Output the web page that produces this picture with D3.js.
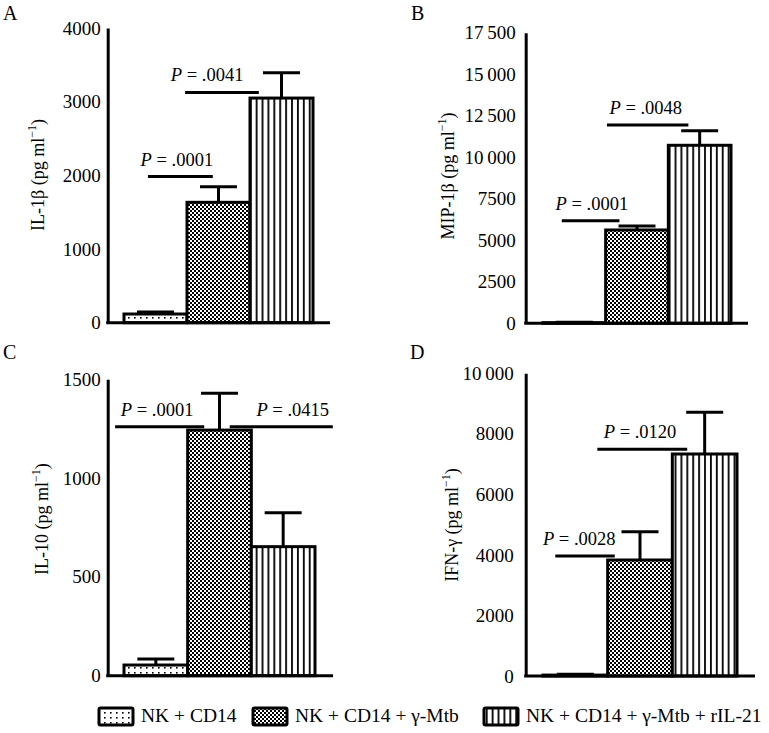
<!DOCTYPE html>
<html lang="en">
<head>
<meta charset="utf-8">
<title>NK cytokines</title>
<script src="https://cdn.jsdelivr.net/npm/d3@7"></script>
<style>
  body { margin: 0; background: #fff; }
  svg, svg text { font-family: "Liberation Serif", "Times New Roman", Times, serif; }
</style>
</head>
<body>
<svg width="769" height="733"></svg>
<script>
// groups (legend)
var groups = ["NK + CD14", "NK + CD14 + \u03b3-Mtb", "NK + CD14 + \u03b3-Mtb + rIL-21"];

// means and SEM, pg/ml
var il1bMean = [118, 1634, 3049];
var il1bSem  = [27, 211, 343];
var mip1bMean = [40, 5620, 10720];
var mip1bSem  = [20, 240, 880];
var il10Mean = [54, 1243, 653];
var il10Sem  = [31, 186, 172];
var ifngMean = [30, 3832, 7334];
var ifngSem  = [25, 935, 1377];

// tick values
var il1bTicks  = [0, 1000, 2000, 3000, 4000];
var mip1bTicks = [0, 2500, 5000, 7500, 10000, 12500, 15000, 17500];
var il10Ticks  = [0, 500, 1000, 1500];
var ifngTicks  = [0, 2000, 4000, 6000, 8000, 10000];

// P values and the level of their bracket
var il1bP  = [".0001", ".0041"], il1bPLevel  = [1984, 3126];
var mip1bP = [".0001", ".0048"], mip1bPLevel = [6180, 11940];
var il10P  = [".0001", ".0415"], il10PLevel  = [1260, 1260];
var ifngP  = [".0028", ".0120"], ifngPLevel  = [3964, 7489];

// layout of each panel (pixels) and bracket spans (in bar widths)
var panels = [
  {label: "A", name: "IL-1\u03b2", mean: il1bMean, sem: il1bSem, ticks: il1bTicks, p: il1bP, lvl: il1bPLevel,
   ax: 107.7, top: 28, bot: 322.7, b0: 124, b1: 313, end: 330, pad: 7, tx: 38, ty: 175, lx: 3, ly: 20,
   span: [[0.38, 1.41, 0.84], [0.97, 2.14, 1.32]]},
  {label: "B", name: "MIP-1\u03b2", mean: mip1bMean, sem: mip1bSem, ticks: mip1bTicks, p: mip1bP, lvl: mip1bPLevel,
   ax: 525.7, top: 32.7, bot: 323.3, b0: 543, b1: 731, end: 748, pad: 10, tx: 448, ty: 176, lx: 411, ly: 20,
   span: [[0.30, 1.22, 0.78], [1.02, 2.32, 1.64]]},
  {label: "C", name: "IL-10", mean: il10Mean, sem: il10Sem, ticks: il10Ticks, p: il10P, lvl: il10PLevel,
   ax: 107.7, top: 379.3, bot: 675.7, b0: 124, b1: 315, end: 333, pad: 7, tx: 42, ty: 519, lx: 3, ly: 359,
   span: [[-0.14, 1.26, 0.52], [1.66, 3.28, 2.65]]},
  {label: "D", name: "IFN-\u03b3", mean: ifngMean, sem: ifngSem, ticks: ifngTicks, p: ifngP, lvl: ifngPLevel,
   ax: 525.7, top: 373.3, bot: 676, b0: 543, b1: 737, end: 755, pad: 12, tx: 452, ty: 525, lx: 410, ly: 359,
   span: [[0.19, 1.11, 0.56], [0.84, 2.23, 1.50]]}
];

var FONT = "'Liberation Serif', 'Times New Roman', Times, serif";
var svg = d3.select("svg").attr("font-family", FONT);
svg.append("rect").attr("width", 769).attr("height", 733).attr("fill", "#fff");

// fill patterns
var defs = svg.append("defs");
var dots = defs.append("pattern").attr("id", "pat0").attr("patternUnits", "userSpaceOnUse")
  .attr("width", 6).attr("height", 5);
dots.append("rect").attr("width", 6).attr("height", 5).attr("fill", "#fff");
dots.append("rect").attr("x", 2).attr("y", 2).attr("width", 1.6).attr("height", 1.6).attr("fill", "#000");

var chk = defs.append("pattern").attr("id", "pat1").attr("patternUnits", "userSpaceOnUse")
  .attr("width", 4).attr("height", 4);
chk.append("rect").attr("width", 4).attr("height", 4).attr("fill", "#fff");
chk.append("rect").attr("width", 2).attr("height", 2).attr("fill", "#000");
chk.append("rect").attr("x", 2).attr("y", 2).attr("width", 2).attr("height", 2).attr("fill", "#000");

var str = defs.append("pattern").attr("id", "pat2").attr("patternUnits", "userSpaceOnUse")
  .attr("width", 5.9).attr("height", 10);
str.append("rect").attr("width", 5.9).attr("height", 10).attr("fill", "#fff");
str.append("rect").attr("x", 2).attr("width", 1.8).attr("height", 10).attr("fill", "#000");

function fmt(v) {
  return v >= 10000 ? d3.format(",")(v).replace(",", "\u2009") : String(v);
}

panels.forEach(function (p) {
  var y = d3.scaleLinear().domain([0, d3.max(p.ticks)]).range([p.bot, p.top]);
  var x = d3.scaleBand().domain(d3.range(3)).range([p.b0, p.b1]).padding(0);
  var bw = x.bandwidth();
  var g = svg.append("g");

  // bars
  g.selectAll("rect.bar").data(p.mean).enter().append("rect")
    .attr("class", "bar")
    .attr("x", function (d, i) { return x(i); })
    .attr("y", function (d) { return y(d); })
    .attr("width", bw)
    .attr("height", function (d) { return p.bot - y(d); })
    .attr("fill", function (d, i) { return "url(#pat" + i + ")"; })
    .attr("stroke", "#000").attr("stroke-width", 3);

  // error bars (upper only)
  p.mean.forEach(function (m, i) {
    var cx = x(i) + bw / 2;
    g.append("line").attr("x1", cx).attr("x2", cx)
      .attr("y1", y(m)).attr("y2", y(m + p.sem[i]))
      .attr("stroke", "#000").attr("stroke-width", 3);
    g.append("line").attr("x1", cx - 18.5).attr("x2", cx + 18.5)
      .attr("y1", y(m + p.sem[i])).attr("y2", y(m + p.sem[i]))
      .attr("stroke", "#000").attr("stroke-width", 3);
  });

  // axes
  var ya = g.append("g").attr("transform", "translate(" + p.ax + ",0)")
    .call(d3.axisLeft(y).tickValues(p.ticks).tickSize(0).tickSizeOuter(0).tickPadding(p.pad).tickFormat(fmt));
  ya.attr("font-family", FONT).attr("font-size", 19);
  ya.select(".domain").attr("stroke-width", 3);
  g.append("line").attr("x1", p.ax - 1.5).attr("x2", p.end)
    .attr("y1", p.bot).attr("y2", p.bot)
    .attr("stroke", "#000").attr("stroke-width", 3);

  // significance brackets
  p.p.forEach(function (pv, k) {
    var s = p.span[k];
    var ly = y(p.lvl[k]);
    g.append("line").attr("x1", p.b0 + s[0] * bw).attr("x2", p.b0 + s[1] * bw)
      .attr("y1", ly).attr("y2", ly)
      .attr("stroke", "#000").attr("stroke-width", 3);
    var t = g.append("text").attr("x", p.b0 + s[2] * bw).attr("y", ly - 11)
      .attr("text-anchor", "middle").attr("font-size", 18.5);
    t.append("tspan").attr("font-style", "italic").text("P");
    t.append("tspan").text(" = " + pv);
  });

  // y title
  var tt = g.append("text")
    .attr("transform", "translate(" + p.tx + "," + p.ty + ") rotate(-90)")
    .attr("dy", "0.35em").attr("text-anchor", "middle").attr("font-size", 18);
  tt.append("tspan").text(p.name + " (pg ml");
  tt.append("tspan").attr("font-size", 12).attr("dy", "-0.7em").text("\u22121");
  tt.append("tspan").attr("dy", "0.45em").text(")");

  // panel letter
  g.append("text").attr("x", p.lx).attr("y", p.ly).attr("font-size", 20).text(p.label);
});

// legend
var legX = [99, 253, 484];
var leg = svg.append("g");
groups.forEach(function (name, i) {
  leg.append("rect").attr("x", legX[i]).attr("y", 708).attr("width", 34).attr("height", 17)
    .attr("rx", 1.5)
    .attr("fill", "url(#pat" + i + ")").attr("stroke", "#000").attr("stroke-width", 3);
  leg.append("text").attr("x", legX[i] + 42).attr("y", 722).attr("font-size", 19.5).text(name);
});
</script>
</body>
</html>
